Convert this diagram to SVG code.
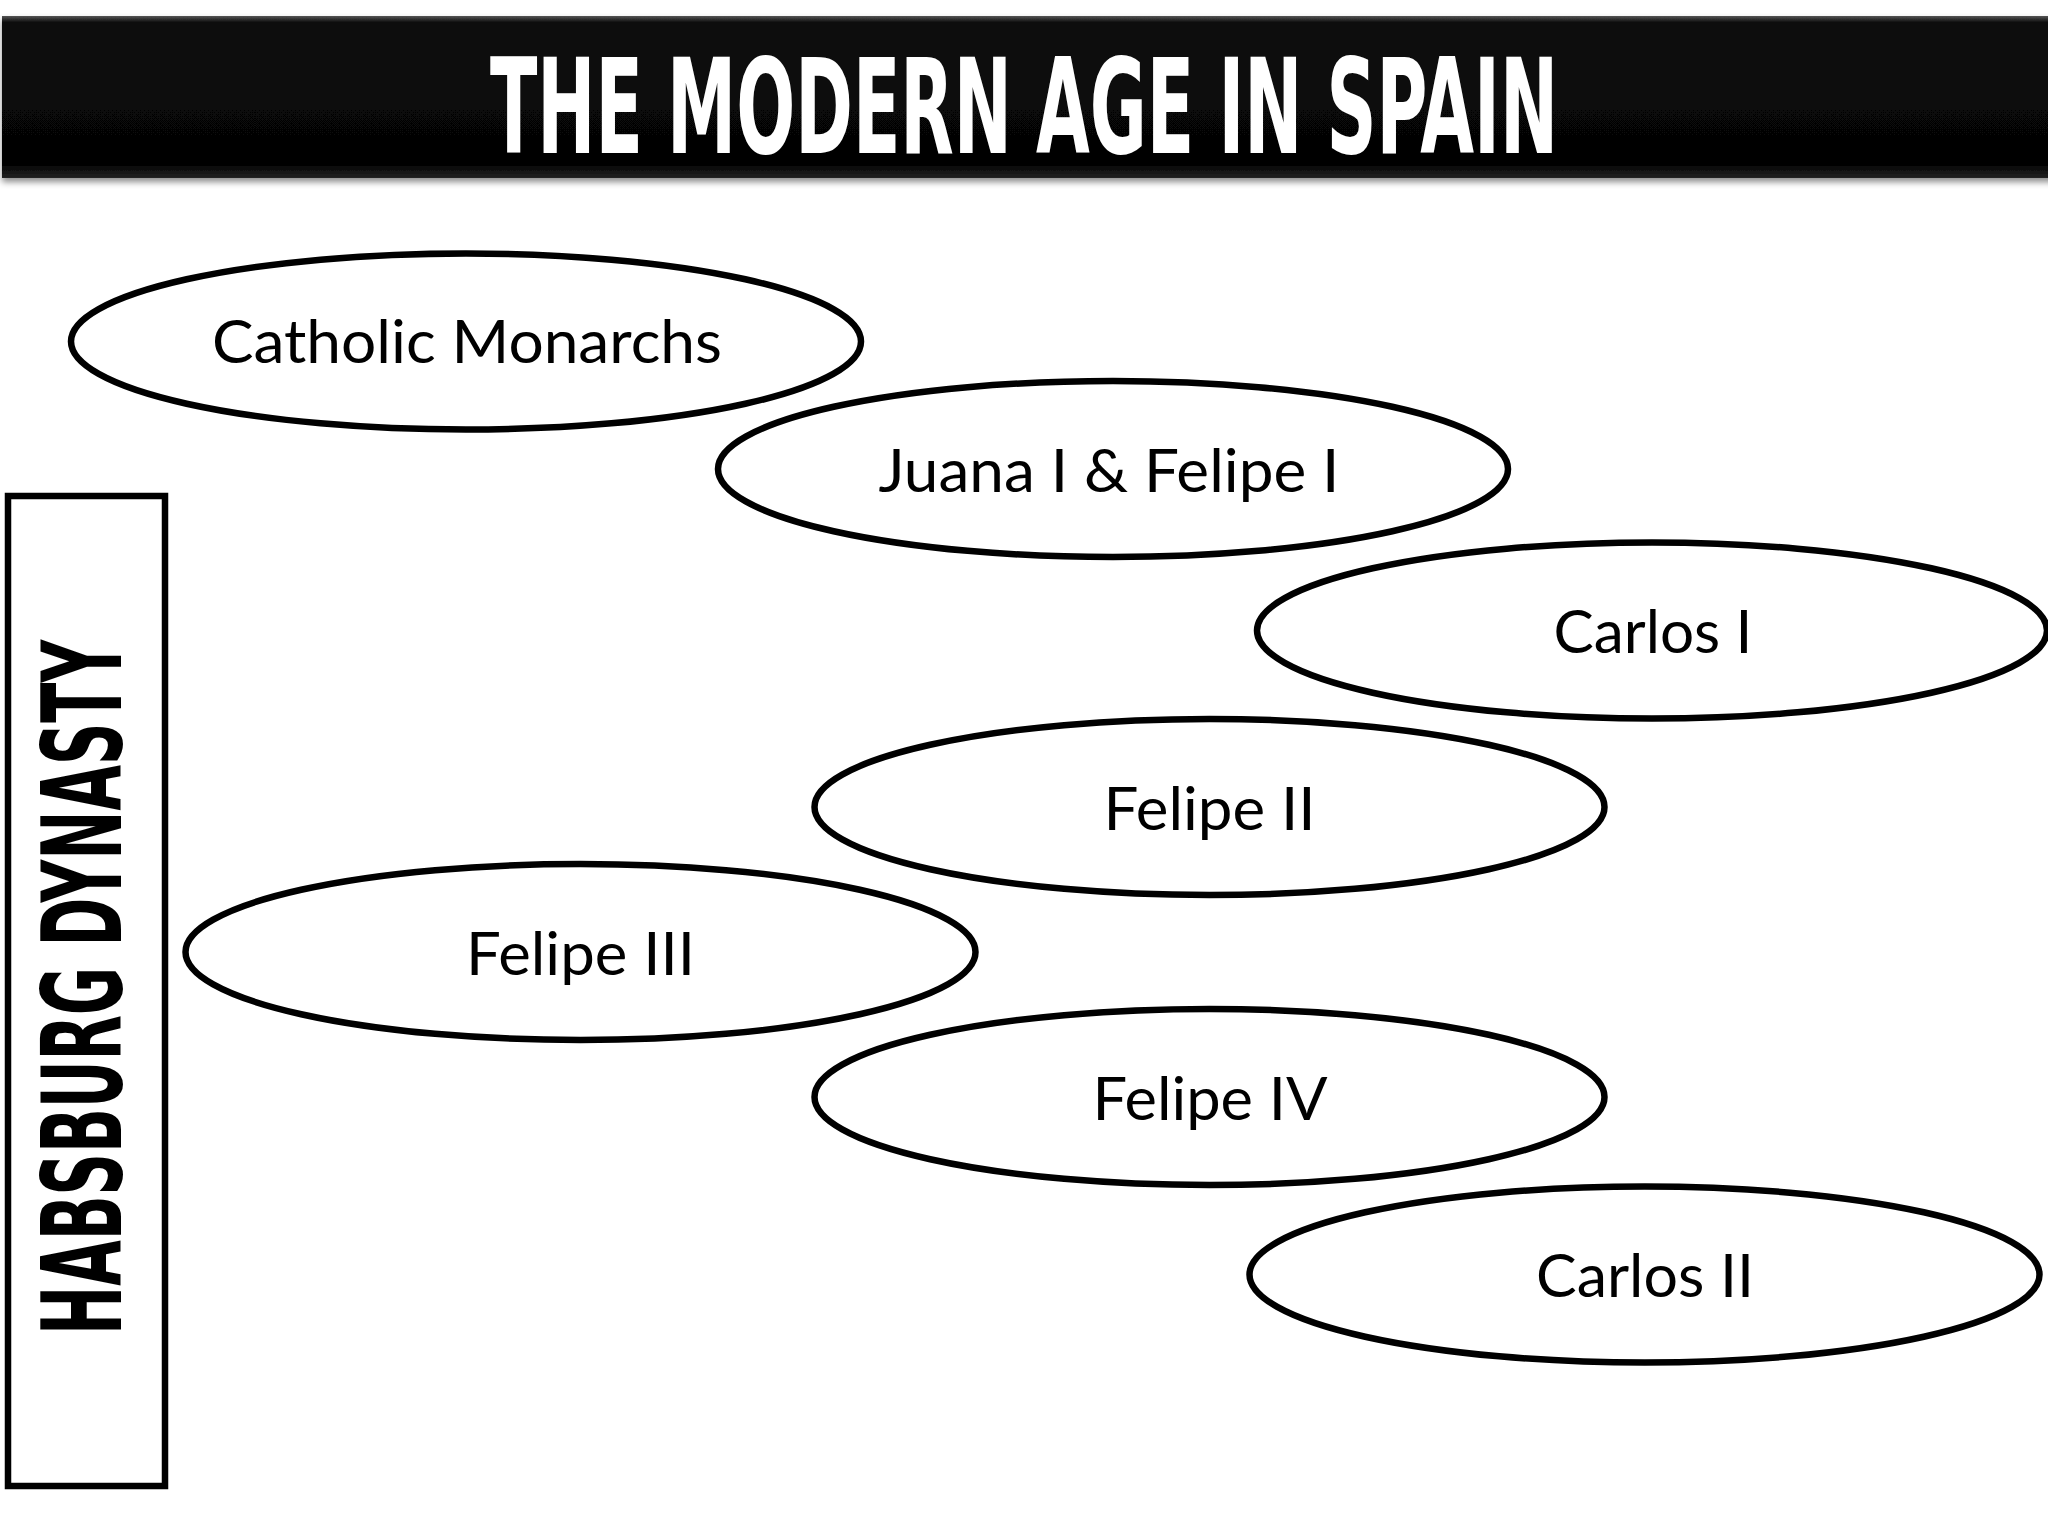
<svg xmlns="http://www.w3.org/2000/svg" width="2048" height="1536" viewBox="0 0 2048 1536">
<defs>
  <filter id="shadow" x="-5%" y="-20%" width="110%" height="150%">
    <feDropShadow dx="0" dy="4" stdDeviation="3" flood-color="#000" flood-opacity="0.45"/>
  </filter>
  <linearGradient id="barGrad" x1="0" y1="0" x2="0" y2="1">
    <stop offset="0" stop-color="#555"/>
    <stop offset="0.04" stop-color="#0a0a0a"/>
    <stop offset="0.92" stop-color="#050505"/>
    <stop offset="1" stop-color="#222"/>
  </linearGradient>
  <style>
    .node ellipse { fill: #ffffff; stroke: #000000; stroke-width: 6.5; }
    .label { font-family: Lato, "Open Sans", "Liberation Sans", sans-serif; font-size: 60px; fill: #000000; text-anchor: middle; }
    .title { font-family: "Liberation Sans Narrow", "DejaVu Sans Condensed", "Liberation Sans", sans-serif; font-weight: bold; fill: #ffffff; text-anchor: middle; }
    .side { font-family: "Liberation Sans Narrow", "DejaVu Sans Condensed", "Liberation Sans", sans-serif; font-weight: bold; fill: #000000; text-anchor: middle; }
  </style>
</defs>
<rect width="2048" height="1536" fill="#ffffff"/>

<g id="title-bar">
  <rect x="2" y="16" width="2060" height="162" fill="url(#barGrad)" filter="url(#shadow)"/>
  <text class="title" x="1024" y="153" font-size="132" textLength="1068" lengthAdjust="spacingAndGlyphs">THE MODERN AGE IN SPAIN</text>
</g>

<g id="habsburg-box">
  <rect x="8" y="496" width="157" height="990" fill="#ffffff" stroke="#000000" stroke-width="6.5"/>
  <text class="side" transform="translate(121,987.5) rotate(-90)" x="0" y="0" font-size="110" textLength="695" lengthAdjust="spacingAndGlyphs">HABSBURG DYNASTY</text>
</g>

<g id="connectors"></g>

<g id="catholic-monarchs" class="node">
  <ellipse cx="466" cy="341.5" rx="395" ry="88"/>
  <text class="label" x="467" y="363" textLength="510" lengthAdjust="spacingAndGlyphs">Catholic Monarchs</text>
</g>
<g id="juana-felipe" class="node">
  <ellipse cx="1113" cy="469" rx="395" ry="88"/>
  <text class="label" x="1109" y="492" textLength="461" lengthAdjust="spacingAndGlyphs">Juana I &amp; Felipe I</text>
</g>
<g id="carlos-i" class="node">
  <ellipse cx="1652" cy="630.5" rx="395" ry="88"/>
  <text class="label" x="1653" y="653" textLength="199" lengthAdjust="spacingAndGlyphs">Carlos I</text>
</g>
<g id="felipe-ii" class="node">
  <ellipse cx="1209.5" cy="807" rx="395" ry="88"/>
  <text class="label" x="1209.5" y="829.5" textLength="212" lengthAdjust="spacingAndGlyphs">Felipe II</text>
</g>
<g id="felipe-iii" class="node">
  <ellipse cx="580.5" cy="952" rx="395" ry="88"/>
  <text class="label" x="580.5" y="974.5" textLength="229" lengthAdjust="spacingAndGlyphs">Felipe III</text>
</g>
<g id="felipe-iv" class="node">
  <ellipse cx="1209.5" cy="1097" rx="395" ry="88"/>
  <text class="label" x="1210" y="1119.5" textLength="235" lengthAdjust="spacingAndGlyphs">Felipe IV</text>
</g>
<g id="carlos-ii" class="node">
  <ellipse cx="1644.5" cy="1274.5" rx="395" ry="88"/>
  <text class="label" x="1645" y="1297" textLength="218" lengthAdjust="spacingAndGlyphs">Carlos II</text>
</g>
</svg>
